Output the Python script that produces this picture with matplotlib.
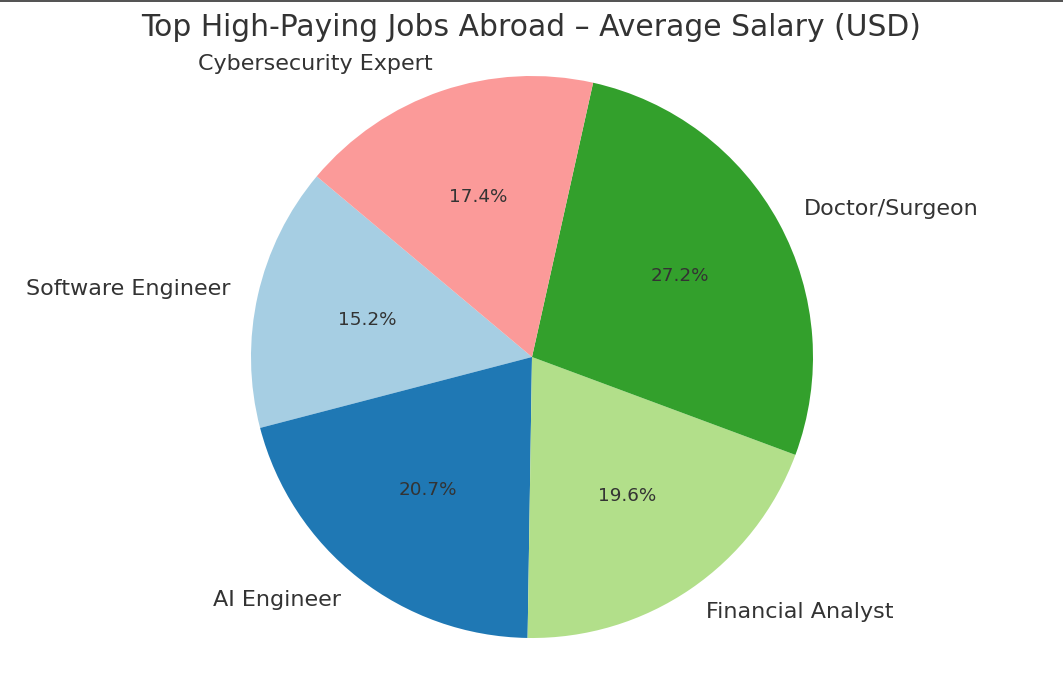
import matplotlib.pyplot as plt
from matplotlib.lines import Line2D

jobs = ["Software Engineer", "AI Engineer", "Financial Analyst",
        "Doctor/Surgeon", "Cybersecurity Expert"]
salaries = [110000, 150000, 142000, 197000, 126000]
colours = ["#a6cee3", "#1f78b4", "#b2df8a", "#33a02c", "#fb9a99"]

txt = "#333333"
W, H = 1063, 680
cx, cy, r = 532, 323, 281   # pie centre (from bottom) and radius in pixels

fig = plt.figure(figsize=(W / 100, H / 100), dpi=100)
ax = fig.add_axes([0, 0, 1, 1])

ax.pie(salaries, labels=jobs, colors=colours, autopct="%1.1f%%",
       startangle=140, textprops={"fontsize": 16, "color": txt})
for t in ax.texts:
    if t.get_text().endswith("%"):
        t.set_fontsize(13.2)

ax.set_xlim(-cx / r, (W - cx) / r)
ax.set_ylim(-cy / r, (H - cy) / r)
ax.set_aspect("auto")
ax.axis("off")

fig.text(0.5, 1 - 27.5 / H, "Top High-Paying Jobs Abroad \u2013 Average Salary (USD)",
         ha="center", va="center", fontsize=21.4, color=txt)
fig.add_artist(Line2D([0, 1], [1 - 0.5 / H, 1 - 0.5 / H], transform=fig.transFigure,
                      color=txt, linewidth=1.2))

fig.savefig("out.png", dpi=100)
